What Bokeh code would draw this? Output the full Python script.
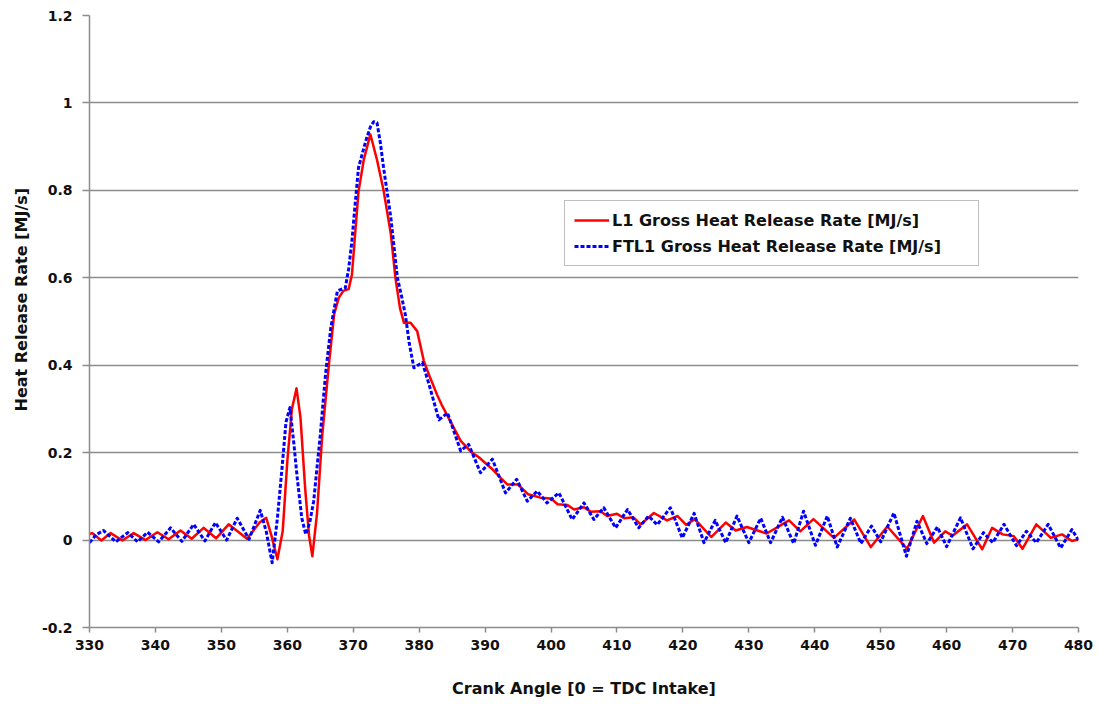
from bokeh.plotting import figure
from bokeh.models import Range1d, FixedTicker, Legend, LegendItem, Title
from bokeh.embed import file_html
from bokeh.resources import INLINE

# ---------------- data ----------------
angle_l1 = [330.0, 330.4, 331.8, 333.2, 335.0, 336.7, 338.5, 340.3, 342.0, 343.8,
            345.5, 347.3, 349.2, 351.1, 353.9, 355.8, 356.8, 357.6, 358.5, 359.3,
            360.0, 360.7, 361.4, 362.0, 362.7, 363.3, 363.8, 364.5, 365.3, 366.3,
            367.1, 367.8, 368.5, 369.3, 369.8, 370.8, 371.6, 372.6, 373.6, 374.6,
            375.7, 376.4, 377.1, 377.7, 378.7, 379.7, 380.7, 381.7, 382.7, 383.4,
            384.8, 386.3, 388.0, 389.0, 390.9, 392.5, 393.4, 395.0, 396.5, 398.4,
            400.0, 401.0, 402.5, 403.5, 405.0, 406.0, 407.5, 408.5, 410.0, 411.1,
            412.5, 413.6, 415.6, 417.6, 419.2, 420.5, 421.8, 424.3, 426.5, 428.0,
            429.7, 432.7, 436.1, 437.8, 439.8, 442.9, 446.0, 448.5, 451.0, 454.0,
            456.4, 458.1, 459.8, 460.9, 463.1, 465.4, 466.9, 468.5, 470.2, 471.5,
            473.6, 475.8, 477.5, 479.0, 480.0]
hrr_l1 = [0.014, 0.016, -0.001, 0.016, -0.001, 0.016, 0.000, 0.018, 0.002, 0.022,
          0.003, 0.028, 0.004, 0.036, 0.003, 0.040, 0.051, 0.01, -0.044, 0.02,
          0.18, 0.30, 0.347, 0.28, 0.12, 0.01, -0.037, 0.06, 0.24, 0.40,
          0.516, 0.554, 0.57, 0.574, 0.607, 0.797, 0.87, 0.928, 0.87, 0.80,
          0.70, 0.60, 0.53, 0.497, 0.497, 0.478, 0.41, 0.37, 0.333, 0.31,
          0.27, 0.227, 0.20, 0.19, 0.165, 0.14, 0.127, 0.127, 0.105, 0.097,
          0.095, 0.082, 0.08, 0.07, 0.075, 0.065, 0.066, 0.055, 0.06, 0.05,
          0.052, 0.036, 0.062, 0.045, 0.055, 0.035, 0.048, 0.007, 0.040, 0.022,
          0.03, 0.015, 0.045, 0.02, 0.048, 0.005, 0.047, -0.016, 0.031, -0.02,
          0.055, -0.006, 0.02, 0.01, 0.036, -0.021, 0.028, 0.013, 0.009, -0.02,
          0.036, 0.005, 0.013, -0.002, 0.002]

angle_ftl1 = [330.0, 331.0, 332.1, 334.0, 335.8, 337.3, 338.8, 340.5, 342.3, 344.0,
              345.8, 347.5, 349.1, 350.8, 352.4, 354.2, 355.9, 356.8, 357.7, 358.5,
              359.2, 359.8, 360.4, 361.0, 361.5, 362.2, 362.8, 363.4, 364.0, 365.0,
              365.8, 366.6, 367.6, 368.8, 369.3, 369.8, 370.3, 370.8, 371.9, 372.6,
              373.1, 373.6, 374.1, 374.6, 375.7, 376.7, 377.3, 377.9, 378.5, 379.2,
              379.8, 380.5, 381.5, 383.0, 384.3, 386.3, 387.5, 389.3, 391.1, 393.1,
              394.8, 396.4, 397.9, 399.4, 401.2, 403.2, 405.0, 406.5, 408.0, 409.8,
              411.6, 413.3, 414.8, 416.1, 418.1, 419.9, 421.7, 423.2, 424.9, 426.5,
              428.2, 430.0, 431.8, 433.3, 435.1, 436.8, 438.3, 440.1, 441.9, 443.4,
              445.4, 447.0, 448.6, 450.0, 452.0, 453.9, 455.5, 457.0, 458.6, 460.0,
              462.1, 464.0, 465.6, 467.0, 468.7, 470.6, 472.1, 473.6, 475.4, 477.3,
              479.0, 480.0]
hrr_ftl1 = [-0.006, 0.012, 0.022, -0.004, 0.017, -0.004, 0.018, -0.004, 0.028, -0.003,
            0.036, -0.002, 0.040, 0.000, 0.050, 0.002, 0.068, 0.02, -0.052, 0.05,
            0.165, 0.27, 0.303, 0.22, 0.143, 0.05, 0.013, 0.04, 0.089, 0.24,
            0.38, 0.486, 0.57, 0.577, 0.62, 0.684, 0.77, 0.852, 0.913, 0.945,
            0.957, 0.955, 0.91, 0.852, 0.738, 0.60, 0.56, 0.516, 0.45, 0.394,
            0.40, 0.406, 0.356, 0.275, 0.291, 0.204, 0.219, 0.154, 0.185, 0.108,
            0.139, 0.089, 0.112, 0.085, 0.108, 0.047, 0.085, 0.047, 0.074, 0.028,
            0.07, 0.028, 0.055, 0.035, 0.074, 0.005, 0.061, -0.006, 0.045, -0.006,
            0.055, -0.006, 0.050, -0.006, 0.052, -0.008, 0.066, -0.012, 0.055, -0.016,
            0.050, -0.008, 0.032, -0.004, 0.062, -0.037, 0.043, -0.008, 0.030, -0.015,
            0.051, -0.02, 0.017, -0.006, 0.036, -0.013, 0.02, -0.006, 0.036, -0.018,
            0.024, 0.0]

series_names = ["L1 Gross Heat Release Rate [MJ/s]", "FTL1 Gross Heat Release Rate [MJ/s]"]
x_ticks = [330, 340, 350, 360, 370, 380, 390, 400, 410, 420, 430, 440, 450, 460, 470, 480]
y_ticks = [-0.2, 0, 0.2, 0.4, 0.6, 0.8, 1, 1.2]
y_tick_labels = ["-0.2", "0", "0.2", "0.4", "0.6", "0.8", "1", "1.2"]
x_title = "Crank Angle [0 = TDC Intake]"
y_title = "Heat Release Rate [MJ/s]"

# ---------------- figure ----------------
FONT = "DejaVu Sans"
GRID = "#8c8c8c"
TXT = "#111111"

p = figure(width=1099, height=704, output_backend="svg", toolbar_location=None,
           x_range=Range1d(330, 480), y_range=Range1d(-0.2, 1.2),
           min_border_left=89, min_border_right=21, min_border_top=15, min_border_bottom=77)
p.outline_line_color = None
p.background_fill_color = "white"
p.border_fill_color = "white"

# grids
p.xgrid.visible = False
yt = FixedTicker(ticks=y_ticks)
p.yaxis.ticker = yt
p.ygrid.ticker = yt
p.ygrid.grid_line_color = GRID
p.ygrid.grid_line_width = 1.5

p.xaxis.ticker = FixedTicker(ticks=x_ticks)
p.yaxis.major_label_overrides = dict(zip(y_ticks, y_tick_labels))

for ax in (p.xaxis[0], p.yaxis[0]):
    ax.axis_line_color = GRID
    ax.axis_line_width = 1.5
    ax.major_tick_line_color = GRID
    ax.major_tick_line_width = 1.5
    ax.major_tick_in = 0
    ax.minor_tick_line_color = None
    ax.major_label_text_font = FONT
    ax.major_label_text_font_style = "bold"
    ax.major_label_text_font_size = "14px"
    ax.major_label_text_color = TXT
    ax.axis_label_text_font = FONT
    ax.axis_label_text_font_style = "bold"
    ax.axis_label_text_font_size = "16px"
    ax.axis_label_text_color = TXT

p.yaxis.major_tick_out = 7
p.yaxis.major_label_standoff = 10
p.xaxis.major_tick_out = 5
p.xaxis.major_label_standoff = 7
p.xaxis.axis_label_standoff = 26
p.xaxis.axis_label = x_title

# y-axis title as a side title so it can be shifted along the axis like the original
ytitle = Title(text=y_title, align="left", offset=216, standoff=15,
               text_font=FONT, text_font_style="bold", text_font_size="16px",
               text_color=TXT)
p.add_layout(ytitle, "left")

# series
r1 = p.line(angle_l1, hrr_l1, line_color="#ff0000", line_width=2.5, line_join="round")
r2 = p.line(angle_ftl1, hrr_ftl1, line_color="#0000ff", line_width=3, line_dash="4 2",
            line_join="round")

legend = Legend(items=[LegendItem(label=series_names[0], renderers=[r1]),
                       LegendItem(label=series_names[1], renderers=[r2])],
                location=(475, 361), margin=0, padding=9, spacing=6,
                glyph_width=35, glyph_height=20, label_height=20, label_standoff=3,
                label_width=357,
                label_text_font=FONT, label_text_font_style="bold",
                label_text_font_size="16px", label_text_color=TXT,
                border_line_color="#7f7f7f", border_line_width=1.5,
                background_fill_color="white", background_fill_alpha=1.0)
p.add_layout(legend)

open("out.html", "w").write(file_html(p, INLINE))
